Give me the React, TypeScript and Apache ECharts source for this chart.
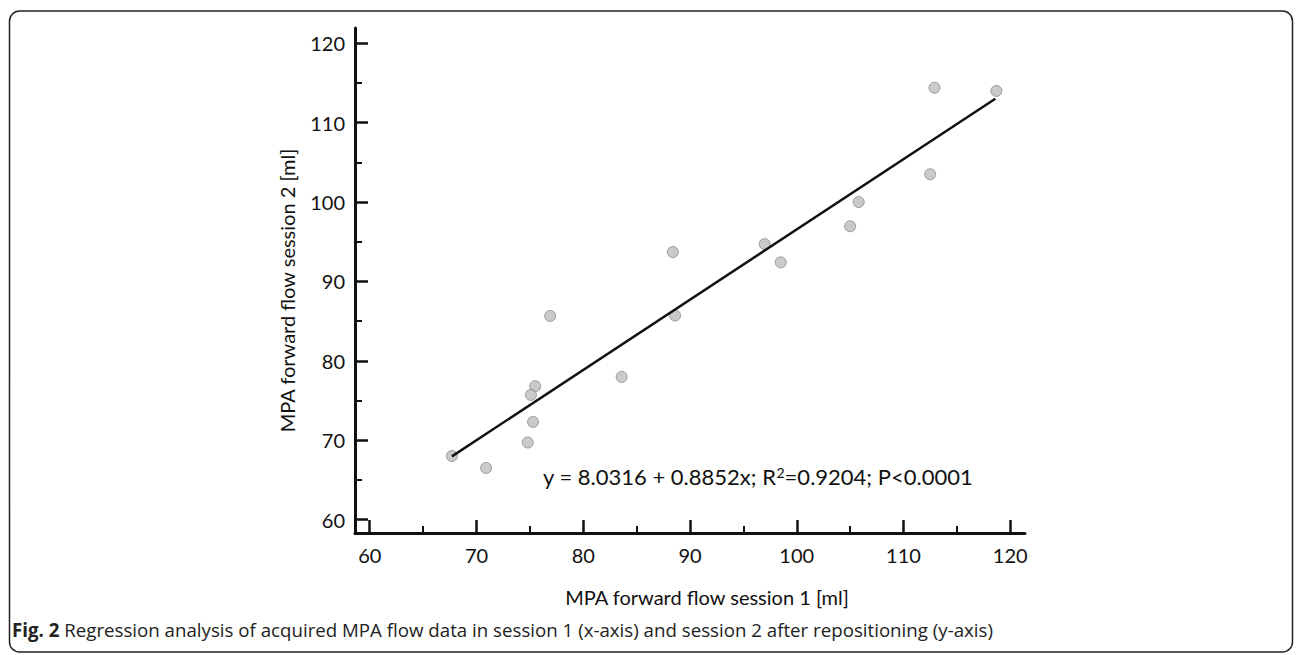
import React, { useEffect, useRef } from "react";
import * as echarts from "echarts";

const session1: number[] = [67.7, 70.9, 76.9, 75.5, 75.1, 75.3, 74.8, 83.6, 88.6, 88.4, 97.0, 98.5, 105.0, 105.8, 112.5, 112.9, 118.7];
const session2: number[] = [68.0, 66.5, 85.65, 76.8, 75.7, 72.3, 69.7, 77.97, 85.7, 93.7, 94.7, 92.4, 96.95, 100.0, 103.5, 114.4, 114.0];
const majorTicks: number[] = [60, 70, 80, 90, 100, 110, 120];
const minorTicks: number[] = [65, 75, 85, 95, 105, 115];
const intercept = 8.0316;
const slope = 0.8852;
const fitRange: number[] = [67.7, 118.6];
const equationParts = ["y = 8.0316 + 0.8852x; R", "2", "=0.9204; P<0.0001"];
const xTitle = "MPA forward flow session 1 [ml]";
const yTitle = "MPA forward flow session 2 [ml]";
const captionBold = "Fig. 2";
const captionText = " Regression analysis of acquired MPA flow data in session 1 (x-axis) and session 2 after repositioning (y-axis)";

const FONT = "Lato";
const INK = "#111";

export default function App() {
  const ref = useRef<HTMLDivElement>(null);
  useEffect(() => {
    if (!ref.current) return;
    const chart = echarts.init(ref.current, undefined, { renderer: "svg" });
    const points = session1.map((x, i) => [x, session2[i]]);
    const fit = fitRange.map((x) => [x, intercept + slope * x]);
    const xMin = 58.62, xMax = 121.38, yMin = 58.3, yMax = 121.93;
    const baseX = {
      type: "value" as const,
      min: xMin,
      max: xMax,
      position: "bottom" as const,
      offset: 0,
      splitLine: { show: false },
    };
    const baseY = {
      type: "value" as const,
      min: yMin,
      max: yMax,
      position: "left" as const,
      offset: 0,
      splitLine: { show: false },
    };
    chart.setOption({
      animation: false,
      backgroundColor: "#fff",
      grid: { left: 355, top: 28, right: 271, bottom: 122, containLabel: false },
      xAxis: [
        {
          ...baseX,
          name: xTitle,
          nameLocation: "middle",
          nameGap: 54,
          nameTextStyle: { fontFamily: FONT, fontSize: 20, color: INK, padding: [0, 0, 0, 34] },
          axisLine: { show: true, onZero: false, lineStyle: { color: INK, width: 3 } },
          axisTick: { show: true, inside: true, length: 13, customValues: majorTicks, lineStyle: { color: INK, width: 2.5 } },
          axisLabel: { show: true, customValues: majorTicks, margin: 12, fontFamily: FONT, fontSize: 20, color: INK },
        },
        {
          ...baseX,
          axisLine: { show: false, onZero: false },
          axisTick: { show: true, inside: true, length: 7, customValues: minorTicks, lineStyle: { color: INK, width: 2 } },
          axisLabel: { show: false },
        },
      ],
      yAxis: [
        {
          ...baseY,
          name: yTitle,
          nameLocation: "middle",
          nameGap: 58,
          nameTextStyle: { fontFamily: FONT, fontSize: 20, color: INK, padding: [0, 20, 0, 0] },
          axisLine: { show: true, onZero: false, lineStyle: { color: INK, width: 3 } },
          axisTick: { show: true, inside: true, length: 13, customValues: majorTicks, lineStyle: { color: INK, width: 2.5 } },
          axisLabel: { show: true, customValues: majorTicks, margin: 10, fontFamily: FONT, fontSize: 20, color: INK },
        },
        {
          ...baseY,
          axisLine: { show: false, onZero: false },
          axisTick: { show: true, inside: true, length: 7, customValues: minorTicks, lineStyle: { color: INK, width: 2 } },
          axisLabel: { show: false },
        },
      ],
      series: [
        {
          type: "line",
          data: fit,
          showSymbol: false,
          symbol: "none",
          lineStyle: { color: INK, width: 2.5 },
          z: 3,
        },
        {
          type: "scatter",
          data: points,
          symbol: "circle",
          symbolSize: 11,
          itemStyle: { color: "#bdbdbd", borderColor: "#8a8a8a", borderWidth: 1 },
          z: 2,
        },
      ],
      graphic: [
        {
          type: "rect",
          shape: { x: 9.5, y: 11, width: 1283, height: 641, r: 10 },
          style: { fill: "none", stroke: "#222", lineWidth: 1.5 },
          silent: true,
        },
        {
          type: "text",
          left: 543,
          top: 465,
          style: {
            text: `${equationParts[0]}{s|${equationParts[1]}}${equationParts[2]}`,
            fontFamily: FONT,
            fontSize: 22,
            fill: INK,
            rich: {
              s: { fontFamily: FONT, fontSize: 14, fill: INK, verticalAlign: "top", padding: [0, 0, 9, 0] },
            },
          } as any,
        },
        {
          type: "text",
          left: 12,
          top: 620,
          style: {
            text: `{b|${captionBold}}${captionText}`,
            fontFamily: "Open Sans",
            fontSize: 18.7,
            fill: "#222",
            rich: {
              b: { fontFamily: "Open Sans", fontWeight: "bold", fontSize: 18.7, fill: "#222" },
            },
          } as any,
        },
      ],
    });
    return () => chart.dispose();
  }, []);
  return <div ref={ref} style={{ position: "fixed", left: 0, top: 0, width: 1296, height: 655 }} />;
}
